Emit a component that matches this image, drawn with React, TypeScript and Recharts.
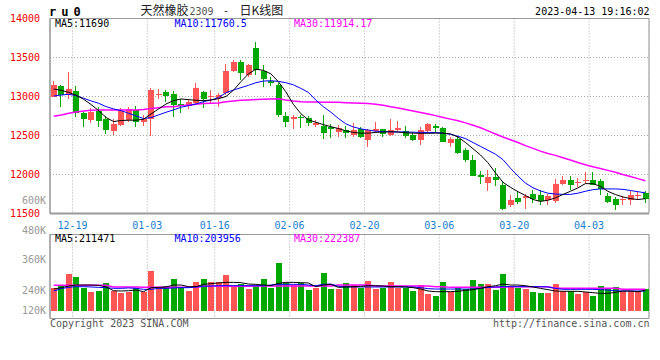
import { ComposedChart, Bar, Line, XAxis, YAxis, CartesianGrid, ReferenceArea } from 'recharts';

const MONO = '"DejaVu Sans Mono", monospace';
const CJK = '"Noto Sans CJK SC", sans-serif';
const RED = '#ff5555';
const GREEN = '#00a800';
const GRID = '#aaaaaa';
const FRAME = '#999999';

// trading days shown on the chart
const dates = [
  '12-14', '12-15', '12-16', '12-19', '12-20', '12-21', '12-22', '12-23', '12-26', '12-27', '12-28', '12-29', '12-30',
  '01-03', '01-04', '01-05', '01-06', '01-09', '01-10', '01-11', '01-12', '01-13',
  '01-16', '01-17', '01-18', '01-19', '01-20', '01-30', '01-31', '02-01', '02-02', '02-03',
  '02-06', '02-07', '02-08', '02-09', '02-10', '02-13', '02-14', '02-15', '02-16', '02-17',
  '02-20', '02-21', '02-22', '02-23', '02-24', '02-27', '02-28', '03-01', '03-02', '03-03',
  '03-06', '03-07', '03-08', '03-09', '03-10', '03-13', '03-14', '03-15', '03-16', '03-17',
  '03-20', '03-21', '03-22', '03-23', '03-24', '03-27', '03-28', '03-29', '03-30', '03-31',
  '04-03', '04-04', '04-06', '04-07', '04-10', '04-11', '04-12', '04-13',
];
const dateTicks = ['12-19', '01-03', '01-16', '02-06', '02-20', '03-06', '03-20', '04-03'];
const priceTicks = [11500, 12000, 12500, 13000, 13500, 14000];

const open = [
  13000, 13134, 13019, 13070, 12794, 12700, 12819, 12709, 12555, 12640,
  12700, 12828, 12679, 12709, 13015, 13062, 13032, 12904, 12879, 12913,
  13062, 12990, 12977, 13040, 13330, 13436, 13274, 13623, 13330, 13202,
  13147, 12751, 12709, 12743, 12721, 12632, 12623, 12606, 12551, 12572,
  12500, 12581, 12445, 12564, 12581, 12509, 12572, 12564, 12509, 12445,
  12564, 12628, 12602, 12402, 12457, 12317, 12181, 11998, 11892, 11964,
  11870, 11615, 11700, 11704, 11755, 11743, 11679, 11666, 11883, 11934,
  11892, 11913, 11934, 11913, 11730, 11691, 11670, 11679, 11721, 11764,
];
const high = [
  13202, 13142, 13317, 13134, 12802, 12849, 12862, 12751, 12717, 12849,
  12870, 12879, 12764, 13104, 13091, 13083, 13075, 12964, 12964, 13168,
  13075, 13083, 13040, 13415, 13474, 13466, 13423, 13700, 13402, 13245,
  13168, 12806, 12760, 12764, 12751, 12700, 12764, 12649, 12636, 12623,
  12666, 12606, 12581, 12679, 12589, 12717, 12691, 12623, 12551, 12606,
  12657, 12649, 12606, 12487, 12487, 12338, 12253, 12040, 12053, 12083,
  11921, 11743, 11785, 11755, 11798, 11806, 11755, 11943, 11977, 11977,
  11955, 12032, 12028, 11943, 11764, 11713, 11721, 11785, 11785, 11785,
];
const low = [
  12990, 12870, 12964, 12743, 12606, 12666, 12606, 12521, 12504, 12623,
  12674, 12615, 12623, 12500, 12964, 12934, 12734, 12794, 12836, 12900,
  12857, 12921, 12870, 13019, 13317, 13211, 13253, 13274, 13125, 13138,
  12734, 12606, 12585, 12594, 12623, 12606, 12453, 12474, 12487, 12474,
  12487, 12462, 12347, 12538, 12487, 12500, 12551, 12474, 12432, 12381,
  12551, 12551, 12411, 12347, 12266, 12155, 11977, 11883, 11785, 11849,
  11543, 11581, 11628, 11564, 11636, 11615, 11615, 11636, 11862, 11798,
  11840, 11883, 11862, 11743, 11636, 11551, 11615, 11615, 11679, 11636,
];
const close = [
  13151, 13019, 13096, 12785, 12717, 12802, 12687, 12572, 12649, 12819,
  12836, 12679, 12713, 13083, 13028, 13011, 12892, 12879, 12934, 13104,
  12964, 13006, 13019, 13330, 13436, 13296, 13402, 13338, 13219, 13168,
  12764, 12679, 12743, 12726, 12657, 12657, 12538, 12581, 12594, 12530,
  12572, 12487, 12572, 12581, 12521, 12572, 12594, 12496, 12445, 12572,
  12645, 12594, 12423, 12457, 12274, 12189, 11985, 11964, 11964, 11934,
  11564, 11679, 11649, 11721, 11687, 11658, 11730, 11883, 11934, 11862,
  11909, 11934, 11870, 11819, 11649, 11615, 11687, 11743, 11743, 11687,
];
const ma5 = [
  13096, 13079, 13053, 13015, 12964, 12896, 12819, 12730, 12679, 12692,
  12696, 12696, 12709, 12777, 12840, 12904, 12947, 12968, 12960, 12951,
  12947, 12955, 12972, 13000, 13080, 13190, 13290, 13350, 13335, 13290,
  13190, 13060, 12900, 12780, 12700, 12670, 12640, 12613, 12590, 12560,
  12540, 12530, 12530, 12540, 12545, 12548, 12545, 12535, 12530, 12528,
  12528, 12530, 12530, 12520, 12480, 12410, 12330, 12250, 12150, 12020,
  11900, 11835, 11780, 11730, 11680, 11655, 11670, 11700, 11743, 11785,
  11828, 11883, 11883, 11849, 11785, 11743, 11713, 11691, 11679, 11690,
];
const ma10 = [
  13006, 13019, 13028, 13011, 12977, 12943, 12913, 12870, 12840, 12819,
  12785, 12751, 12717, 12730, 12764, 12798, 12828, 12862, 12883, 12904,
  12934, 12955, 12985, 13049, 13083, 13113, 13143, 13177, 13198, 13202,
  13194, 13177, 13150, 13104, 13053, 12955, 12870, 12800, 12720, 12650,
  12610, 12585, 12570, 12555, 12550, 12548, 12545, 12545, 12542, 12540,
  12540, 12538, 12530, 12515, 12490, 12460, 12410, 12360, 12310, 12260,
  12190, 12080, 11980, 11890, 11830, 11790, 11760, 11750, 11745, 11745,
  11760, 11785, 11805, 11815, 11815, 11815, 11810, 11795, 11780, 11765,
];
const ma30 = [
  12747, 12764, 12785, 12802, 12815, 12823, 12828, 12828, 12828, 12828,
  12828, 12828, 12832, 12845, 12857, 12870, 12870, 12883, 12892, 12900,
  12909, 12913, 12917, 12934, 12943, 12951, 12955, 12960, 12964, 12968,
  12972, 12955, 12943, 12934, 12930, 12930, 12926, 12926, 12926, 12921,
  12917, 12913, 12909, 12900, 12887, 12868, 12852, 12832, 12815, 12795,
  12775, 12755, 12732, 12710, 12688, 12662, 12632, 12600, 12560, 12520,
  12480, 12445, 12410, 12370, 12335, 12300, 12270, 12245, 12215, 12185,
  12155, 12126, 12100, 12078, 12053, 12028, 12000, 11975, 11947, 11921,
];

// volume, in thousands of lots
const volK = [
  238, 255, 377, 347, 238, 194, 204, 286, 207, 184,
  197, 238, 190, 411, 231, 255, 326, 238, 204, 296,
  326, 296, 296, 367, 255, 272, 224, 255, 326, 235,
  493, 282, 265, 282, 214, 238, 388, 224, 224, 286,
  265, 238, 306, 224, 238, 296, 238, 238, 204, 265,
  173, 153, 296, 194, 245, 224, 316, 275, 275, 214,
  377, 252, 238, 224, 194, 184, 184, 275, 204, 204,
  173, 194, 153, 255, 224, 245, 204, 204, 204, 224,
];
const volMa5 = [
  224, 238, 255, 265, 265, 265, 262, 245, 207, 204,
  207, 214, 197, 238, 241, 245, 265, 265, 248, 248,
  272, 279, 286, 292, 292, 289, 275, 272, 265, 258,
  282, 292, 292, 289, 286, 248, 265, 272, 241, 245,
  248, 252, 258, 258, 255, 248, 248, 245, 238, 224,
  204, 197, 197, 197, 201, 211, 218, 231, 248, 258,
  275, 265, 265, 258, 245, 231, 218, 204, 201, 201,
  201, 194, 187, 180, 180, 190, 204, 204, 197, 211,
];
const volMa10 = [
  204, 228, 241, 248, 248, 245, 241, 238, 231, 231,
  235, 231, 221, 221, 231, 231, 235, 238, 238, 245,
  252, 255, 258, 258, 258, 258, 258, 258, 258, 265,
  272, 272, 272, 272, 265, 258, 272, 275, 252, 245,
  245, 245, 245, 245, 245, 245, 245, 245, 245, 238,
  228, 224, 224, 224, 224, 224, 224, 231, 241, 245,
  248, 248, 248, 248, 248, 248, 245, 231, 221, 221,
  221, 221, 221, 218, 214, 207, 204, 204, 204, 204,
];
const volMa30 = [
  262, 262, 262, 262, 262, 262, 262, 262, 245, 245,
  245, 245, 241, 241, 241, 241, 241, 241, 241, 241,
  252, 252, 252, 252, 252, 252, 252, 255, 255, 255,
  255, 255, 255, 255, 255, 255, 255, 255, 265, 265,
  265, 265, 265, 255, 255, 255, 255, 255, 255, 255,
  255, 248, 248, 241, 241, 241, 241, 241, 241, 241,
  241, 248, 248, 248, 248, 248, 248, 231, 231, 231,
  231, 231, 231, 231, 231, 231, 222, 222, 222, 222,
];

const rows = dates.map((date, i) => ({
  i,
  date,
  hl: [low[i], high[i]],
  open: open[i],
  high: high[i],
  low: low[i],
  close: close[i],
  ma5: ma5[i],
  ma10: ma10[i],
  ma30: ma30[i],
  vol: volK[i],
  vma5: volMa5[i],
  vma10: volMa10[i],
  vma30: volMa30[i],
}));

const xDomain = [-0.5, dates.length - 0.5];
// gridlines sit on the left edge of the labelled day
const xTicks = dateTicks.map((d) => dates.indexOf(d) - 0.5);
const volDomain = [-76.5, 780.3];
const volGrid = [163, 364, 564];

function Candle(props: any) {
  const { x, y, width, height, payload } = props;
  if (!payload || height == null) return null;
  const { open: o, close: c, high: h, low: l } = payload;
  const span = h - l || 1;
  const py = (v: number) => y + ((h - v) / span) * height;
  const cx = Math.round(x + width / 2);
  const color = c >= o ? RED : GREEN;
  const top = Math.round(py(Math.max(o, c)));
  const bot = Math.max(top + 1, Math.round(py(Math.min(o, c))));
  const wt = Math.round(y);
  const wb = Math.round(y + height);
  return (
    <g>
      <rect x={cx - 1} y={wt} width={1} height={Math.max(1, wb - wt)} fill={color} />
      <rect x={cx - 3} y={top} width={6} height={bot - top} fill={color} />
    </g>
  );
}

function VolBar(props: any) {
  const { x, y, width, height, payload } = props;
  if (!payload || height == null) return null;
  const cx = Math.round(x + width / 2);
  const t = Math.round(y);
  const b = Math.round(y + height);
  return (
    <rect x={cx - 3} y={t} width={6} height={Math.max(1, b - t)} fill={payload.close >= payload.open ? RED : GREEN} />
  );
}

function Txt({ left, right, cy, color = '#000', size = 10, font = MONO, bold = false, spacing = 0, children }: any) {
  return (
    <div
      style={{
        position: 'absolute',
        left,
        right,
        top: cy - 6,
        fontFamily: font,
        fontSize: size,
        lineHeight: '12px',
        fontWeight: bold ? 700 : 400,
        letterSpacing: spacing,
        color,
        whiteSpace: 'nowrap',
      }}
    >
      {children}
    </div>
  );
}

export default function App() {
  return (
    <div style={{ position: 'absolute', left: 0, top: 0, width: 660, height: 360, background: '#fff', overflow: 'hidden' }}>
      <div style={{ position: 'absolute', left: 0, top: 0 }}>
        <ComposedChart width={660} height={230} data={rows} margin={{ top: 18.5, right: 11, bottom: 0, left: 0 }}>
          <CartesianGrid stroke={GRID} strokeDasharray="1 2" />
          <XAxis
            type="number"
            dataKey="i"
            domain={xDomain}
            ticks={xTicks}
            interval={0}
            height={16.5}
            tickLine={false}
            axisLine={{ stroke: FRAME, strokeWidth: 2 }}
            tickFormatter={(v: number) => dates[Math.round(v + 0.5)]}
            tick={{ fill: '#1a7fcf', fontSize: 10, fontFamily: MONO }}
          />
          <YAxis
            domain={[11500, 14000]}
            ticks={priceTicks}
            interval={0}
            width={50}
            tickLine={false}
            tickMargin={4}
            axisLine={{ stroke: FRAME }}
            tick={{ fill: '#ee0000', fontSize: 10, fontFamily: MONO }}
          />
          <ReferenceArea x1={xDomain[0]} x2={xDomain[1]} y1={11500} y2={14000} fill="none" stroke={FRAME} />
          <Bar dataKey="hl" barSize={6} shape={(p: any) => <Candle {...p} />} isAnimationActive={false} />
          <Line dataKey="ma30" stroke="#ff00ff" strokeWidth={1.5} dot={false} isAnimationActive={false} />
          <Line dataKey="ma10" stroke="#0000ff" strokeWidth={1} dot={false} isAnimationActive={false} />
          <Line dataKey="ma5" stroke="#000000" strokeWidth={1} dot={false} isAnimationActive={false} />
        </ComposedChart>
      </div>

      <div style={{ position: 'absolute', left: 0, top: 226 }}>
        <ComposedChart width={660} height={100} data={rows} margin={{ top: 8.5, right: 11, bottom: 7.5, left: 0 }}>
          <CartesianGrid stroke={GRID} strokeDasharray="1 2" />
          <XAxis type="number" dataKey="i" domain={xDomain} ticks={xTicks} interval={0} hide />
          <YAxis domain={volDomain} ticks={volGrid} width={50} tick={false} tickLine={false} axisLine={{ stroke: FRAME }} />
          <ReferenceArea x1={xDomain[0]} x2={xDomain[1]} y1={volDomain[0]} y2={volDomain[1]} fill="none" stroke={FRAME} />
          <Bar dataKey="vol" barSize={6} shape={(p: any) => <VolBar {...p} />} isAnimationActive={false} />
          <Line dataKey="vma30" stroke="#ff00ff" strokeWidth={1.5} dot={false} isAnimationActive={false} />
          <Line dataKey="vma10" stroke="#0000ff" strokeWidth={1} dot={false} isAnimationActive={false} />
          <Line dataKey="vma5" stroke="#000000" strokeWidth={1} dot={false} isAnimationActive={false} />
        </ComposedChart>
      </div>

      {/* header */}
      <Txt left={49} cy={11.5} size={12} bold spacing={5}>ru0</Txt>
      <Txt left={140.5} cy={10} size={12} font={CJK} color="#222">天然橡胶</Txt>
      <Txt left={189.5} cy={11.5} color="#555">2309</Txt>
      <Txt left={223} cy={10.5} color="#222">-</Txt>
      <Txt left={239.5} cy={10} size={12} font={CJK} color="#222">日K线图</Txt>
      <Txt right={10.5} cy={12.3}>2023-04-13 19:16:02</Txt>

      {/* price legend */}
      <Txt left={55} cy={24}>MA5:11690</Txt>
      <Txt left={174.5} cy={24} color="#0000ff">MA10:11760.5</Txt>
      <Txt left={294} cy={24} color="#ff00ff">MA30:11914.17</Txt>
      <Txt right={614} cy={200.7} color="#999">600K</Txt>

      {/* volume legend and labels */}
      <Txt left={55} cy={238.8}>MA5:211471</Txt>
      <Txt left={174.5} cy={238.8} color="#0000ff">MA10:203956</Txt>
      <Txt left={294} cy={238.8} color="#ff00ff">MA30:222387</Txt>
      <Txt right={614} cy={230.5} color="#999">480K</Txt>
      <Txt right={614} cy={260.2} color="#999">360K</Txt>
      <Txt right={614} cy={290.5} color="#999">240K</Txt>
      <Txt right={614} cy={311} color="#999">120K</Txt>

      {/* footer */}
      <Txt left={50} cy={323.8} color="#555">Copyright 2023 SINA.COM</Txt>
      <Txt right={10.5} cy={323.8} color="#555">http://finance.sina.com.cn</Txt>
    </div>
  );
}
